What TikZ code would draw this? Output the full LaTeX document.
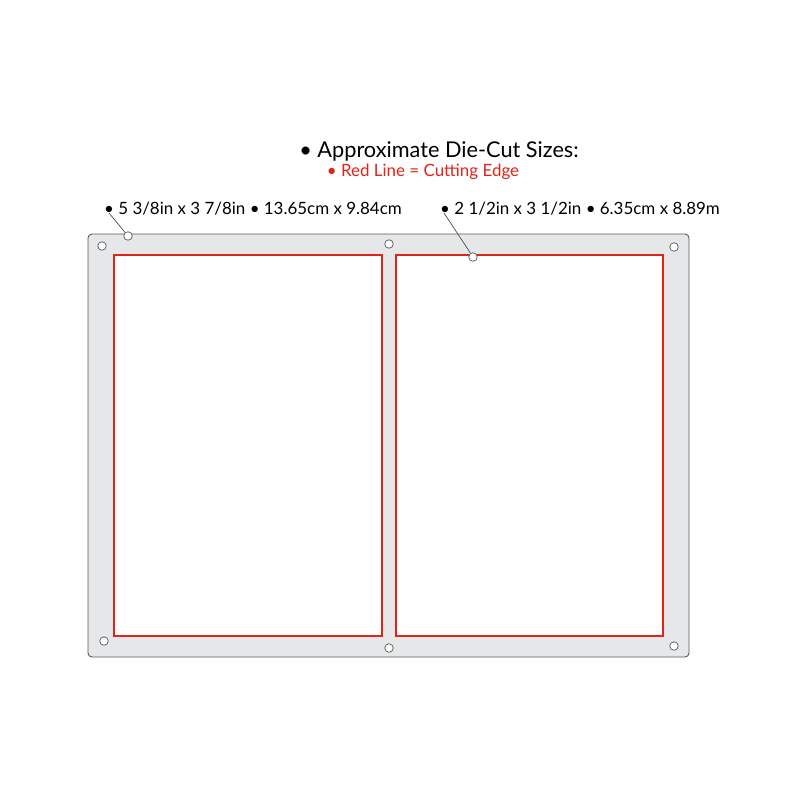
\documentclass[tikz,border=0pt]{standalone}
\usepackage{fontspec}
\setmainfont{Lato}
\usetikzlibrary{calc}
\definecolor{plategray}{HTML}{E6E7E8}
\definecolor{cutred}{HTML}{E2231A}
\tikzset{
  hole/.style = {circle, draw = black!60, fill = white, inner sep = 0pt, minimum size = 8.5bp, line width = .8bp},
  cutline/.style = {draw = cutred, line width = 1.1bp, fill = white},
  sizetext/.style = {anchor = west, inner sep = 0pt, font = \fontsize{17}{20}\selectfont},
}

\begin{document}
\begin{tikzpicture}[x = 1bp, y = -1bp]
  \useasboundingbox (0,0) rectangle (800,800);
  \fill[white] (0,0) rectangle (800,800);

  % plate and the two cut outlines
  \draw[fill = plategray, draw = black!65, line width = .9bp, rounded corners = 4bp] (88,234) rectangle (689,657);
  \draw[cutline] (114,255) rectangle (382,636);
  \draw[cutline] (396,255) rectangle (663,636);

  \foreach \p [count = \i] in {(102,246), (389,244), (674,247), (104,641), (389,648), (674,646)}
    \node[hole] (hole\i) at \p {};

  \node[font = \fontsize{21.8}{26}\selectfont] (title) at (439,151) {\textbullet\ Approximate Die-Cut Sizes:};
  \node[font = \fontsize{17}{20}\selectfont, text = cutred] (redline) at (423,172) {\textbullet\ Red Line = Cutting Edge};

  \node[sizetext] (bigsize) at (104,209) {\textbullet\ 5 3/8in x 3 7/8in \textbullet\ 13.65cm x 9.84cm};
  \node[sizetext] (smallsize) at (440,209) {\textbullet\ 2 1/2in x 3 1/2in \textbullet\ 6.35cm x 8.89m};

  \coordinate (bigdot) at (109,213);
  \coordinate (smalldot) at (444,213);
  \node[hole] (bigmark) at (128,236) {};
  \node[hole] (smallmark) at (473,257) {};
  \draw[black!70, line width = .7bp] (bigdot) -- (bigmark);
  \draw[black!70, line width = .7bp] (smalldot) -- (smallmark);
\end{tikzpicture}
\end{document}
